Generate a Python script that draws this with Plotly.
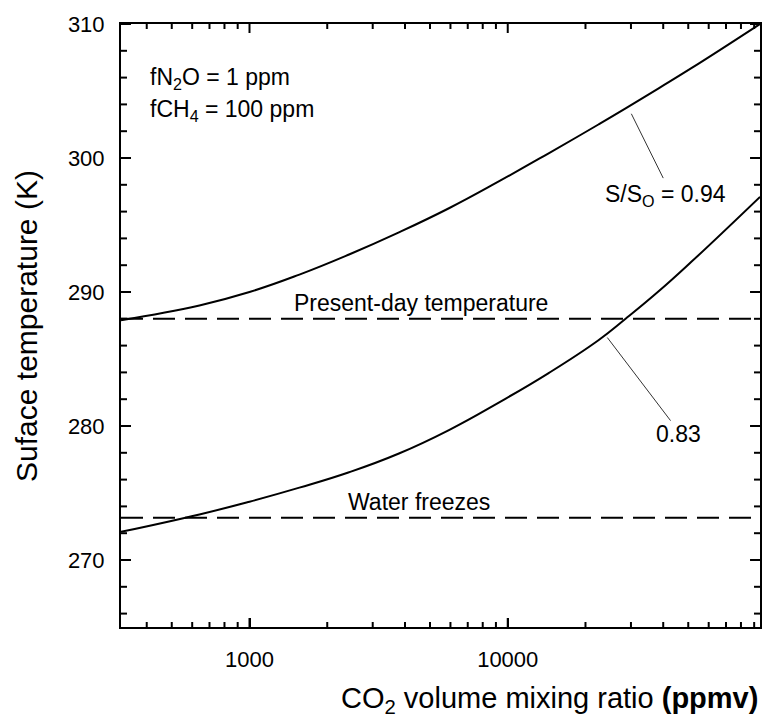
import plotly.graph_objects as go
import numpy as np

# ---- data ----
co2_ppmv = [318, 640, 1000, 1560, 2430, 3790, 5920, 9230, 14400, 22450, 28600, 38400, 51400, 94800]
temp_s094 = [287.9, 289.0, 290.0, 291.3, 292.8, 294.45, 296.25, 298.25, 300.35, 302.5, 303.7, 305.2, 306.7, 310.0]
temp_s083 = [272.1, 273.4, 274.35, 275.4, 276.55, 277.95, 279.7, 281.75, 283.95, 286.4, 288.0, 290.05, 292.25, 297.1]

present_day_T = 288.0
freezing_T = 273.15

x_range = [318, 94800]
y_range = [265, 310]
x_major_ticks = [1000, 10000]
x_major_text = ["1000", "10000"]
y_major_step = 10
y_minor_step = 2

# leader lines: (x0, y0) on curve -> (x1, y1) near label
leader_094 = [(30100, 303.3), (40000, 298.5)]
leader_083 = [(24300, 286.6), (42700, 280.4)]

FONT = "Liberation Sans, Arial, sans-serif"
BLACK = "#000000"

W, H = 763, 722
M = dict(l=121, r=1, t=24, b=95)
PW = W - M["l"] - M["r"]
PH = H - M["t"] - M["b"]


def lx(v):
    return float(np.log10(v))


fig = go.Figure()

for ys in (temp_s094, temp_s083):
    fig.add_trace(go.Scatter(
        x=co2_ppmv, y=ys, mode="lines",
        line=dict(color=BLACK, width=2, shape="spline", smoothing=1.3),
        showlegend=False, hoverinfo="skip"))

for yv in (present_day_T, freezing_T):
    fig.add_trace(go.Scatter(
        x=x_range, y=[yv, yv], mode="lines",
        line=dict(color=BLACK, width=2, dash="22px,10px"),
        showlegend=False, hoverinfo="skip"))

for (p0, p1) in (leader_094, leader_083):
    fig.add_shape(type="line", xref="x", yref="y",
                  x0=p0[0], y0=p0[1], x1=p1[0], y1=p1[1],
                  line=dict(color="#333333", width=1))

# ---- tick marks on all four sides, placed from the axis ranges ----
x_minor_ticks = [d * 10.0 ** e for e in range(2, 5) for d in range(2, 10)
                 if x_range[0] < d * 10.0 ** e < x_range[1]]
y_all = np.arange(np.ceil(y_range[0] / y_minor_step) * y_minor_step,
                  y_range[1] + 1e-9, y_minor_step)
tick_line = dict(color=BLACK, width=2)

for vals, length in ((x_major_ticks, 9), (x_minor_ticks, 5)):
    f = length / PH
    for v in vals:
        fig.add_shape(type="line", xref="x", yref="y domain",
                      x0=v, x1=v, y0=0, y1=f, line=tick_line)
        fig.add_shape(type="line", xref="x", yref="y domain",
                      x0=v, x1=v, y0=1, y1=1 - f, line=tick_line)

for v in y_all:
    length = 10 if abs(v % y_major_step) < 1e-9 else 6
    f = length / PW
    fig.add_shape(type="line", xref="x domain", yref="y",
                  x0=0, x1=f, y0=float(v), y1=float(v), line=tick_line)
    fig.add_shape(type="line", xref="x domain", yref="y",
                  x0=1, x1=1 - f, y0=float(v), y1=float(v), line=tick_line)

ann_font = dict(family=FONT, size=23, color=BLACK)

annotations = [
    dict(x=0.042, y=0.909, xref="paper", yref="paper", xanchor="left", yanchor="middle",
         text="fN<sub>2</sub>O = 1 ppm", showarrow=False, font=ann_font),
    dict(x=0.042, y=0.857, xref="paper", yref="paper", xanchor="left", yanchor="middle",
         text="fCH<sub>4</sub> = 100 ppm", showarrow=False, font=ann_font),
    dict(x=lx(4600), y=289.15, xref="x", yref="y", xanchor="center", yanchor="middle",
         text="Present-day temperature", showarrow=False, font=ann_font),
    dict(x=lx(4550), y=274.35, xref="x", yref="y", xanchor="center", yanchor="middle",
         text="Water freezes", showarrow=False, font=ann_font),
    dict(x=lx(40700), y=297.2, xref="x", yref="y", xanchor="center", yanchor="middle",
         text="S/S<sub>O</sub> = 0.94", showarrow=False, font=ann_font),
    dict(x=lx(45700), y=279.4, xref="x", yref="y", xanchor="center", yanchor="middle",
         text="0.83", showarrow=False, font=ann_font),
    dict(x=1.0, y=-0.121, xref="paper", yref="paper", xanchor="right", yanchor="middle",
         text="CO<sub>2</sub> volume mixing ratio <b>(ppmv)</b>", showarrow=False,
         font=dict(family=FONT, size=29, color=BLACK)),
    dict(x=-0.148, y=0.5, xref="paper", yref="paper", xanchor="center", yanchor="middle",
         text="Suface temperature (K)", textangle=-90, showarrow=False,
         font=dict(family=FONT, size=30, color=BLACK)),
]

fig.update_layout(
    width=W, height=H,
    margin=M,
    paper_bgcolor="white", plot_bgcolor="white",
    font=dict(family=FONT, size=22, color=BLACK),
    annotations=annotations,
    showlegend=False,
    xaxis=dict(type="log", range=[lx(x_range[0]), lx(x_range[1])],
               tickvals=x_major_ticks, ticktext=x_major_text,
               ticks="inside", ticklen=9, tickwidth=2, tickcolor=BLACK,
               showline=True, linecolor=BLACK, linewidth=2, mirror=True,
               showgrid=False, zeroline=False, ticklabelstandoff=12,
               tickfont=dict(family=FONT, size=22, color=BLACK)),
    yaxis=dict(range=y_range, dtick=y_major_step,
               ticks="inside", ticklen=10, tickwidth=2, tickcolor=BLACK,
               showline=True, linecolor=BLACK, linewidth=2, mirror=True,
               showgrid=False, zeroline=False, ticklabelstandoff=10,
               tickfont=dict(family=FONT, size=22, color=BLACK)),
)

fig.write_html("out.html")
